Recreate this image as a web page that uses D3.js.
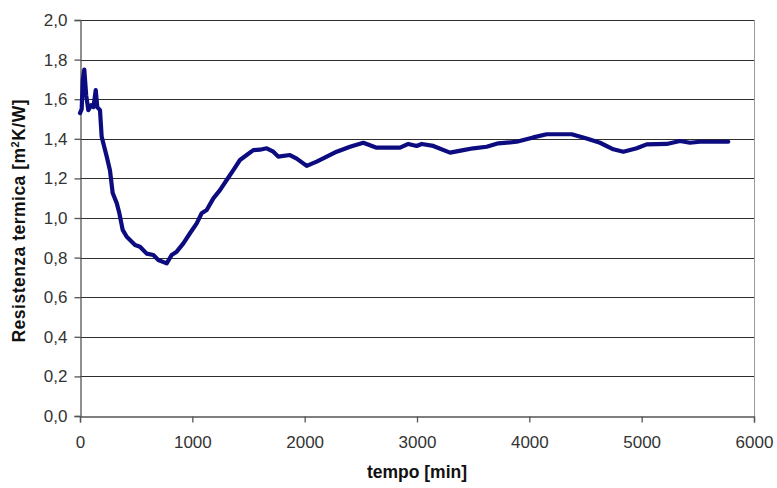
<!DOCTYPE html>
<html><head><meta charset="utf-8">
<script src="https://cdn.jsdelivr.net/npm/d3@7"></script>
<style>
body{margin:0;background:#fff;}
svg{display:block;font-family:"Liberation Sans",Arial,sans-serif;}
</style></head>
<body><svg id="c" width="777" height="488"></svg>
<script>
const times = [0,15,25,38,55,74,100,120,140,154,178,193,238,267,291,327,350,380,416,490,534,594,653,697,772,816,861,920,979,1039,1083,1128,1187,1246,1306,1365,1424,1484,1543,1602,1662,1721,1765,1869,1929,2018,2107,2196,2285,2404,2522,2641,2849,2923,2997,3042,3145,3294,3412,3501,3620,3724,3887,4035,4154,4377,4510,4629,4748,4837,4956,5045,5223,5341,5430,5519,5771];
const resistance = [1.53,1.55,1.70,1.75,1.62,1.545,1.57,1.56,1.646,1.56,1.545,1.41,1.31,1.24,1.126,1.075,1.025,0.94,0.905,0.864,0.855,0.82,0.813,0.788,0.771,0.813,0.83,0.872,0.923,0.973,1.024,1.04,1.099,1.141,1.192,1.242,1.293,1.318,1.343,1.345,1.352,1.335,1.31,1.318,1.30,1.263,1.285,1.31,1.335,1.36,1.38,1.355,1.355,1.374,1.364,1.374,1.364,1.33,1.343,1.352,1.36,1.377,1.385,1.407,1.423,1.423,1.402,1.38,1.347,1.335,1.352,1.372,1.374,1.389,1.38,1.385,1.385];
const xTicks = [0,1000,2000,3000,4000,5000,6000];
const yTicks = [0,0.2,0.4,0.6,0.8,1.0,1.2,1.4,1.6,1.8,2.0];
const xLabel = "tempo [min]";

const svg = d3.select("#c");
const L=80, R=754, T=20, B=416;
const x = d3.scaleLinear().domain([0,6000]).range([L,R]);
const y = d3.scaleLinear().domain([0,2]).range([B,T]);
const fmt = d => d.toFixed(1).replace(".", ",");

// gridlines
svg.append("g").selectAll("line").data(yTicks.filter(d=>d>0)).join("line")
  .attr("x1",L).attr("x2",R).attr("y1",d=>Math.round(y(d))+0.5).attr("y2",d=>Math.round(y(d))+0.5)
  .attr("stroke","#2e2e2e").attr("stroke-width",1);
// right border
svg.append("line").attr("x1",R+0.5).attr("x2",R+0.5).attr("y1",T).attr("y2",B)
  .attr("stroke","#9a9a9a").attr("stroke-width",1);

// y axis
const ya = svg.append("g").attr("transform",`translate(${L+0.5},0)`)
  .call(d3.axisLeft(y).tickValues(yTicks).tickFormat(fmt).tickSize(6).tickPadding(7));
// x axis
const xa = svg.append("g").attr("transform",`translate(0,${B+0.5})`)
  .call(d3.axisBottom(x).tickValues(xTicks).tickFormat(d3.format("d")).tickSize(6).tickPadding(13));
[ya,xa].forEach(a=>{
  a.select(".domain").attr("stroke","#555").attr("stroke-width",1.3);
  a.selectAll(".tick line").attr("stroke","#555").attr("stroke-width",1.3);
  a.selectAll(".tick text").attr("fill","#333").style("font-size","17px").style("font-family","'Liberation Sans',Arial,sans-serif");
});

// line
const line = d3.line().x((d,i)=>x(times[i])).y(d=>y(d));
svg.append("path").datum(resistance).attr("d",line)
  .attr("fill","none").attr("stroke","#0c0c80").attr("stroke-width",4.2)
  .attr("stroke-linejoin","round").attr("stroke-linecap","round");

// axis labels
svg.append("text").attr("x",417).attr("y",478).attr("text-anchor","middle")
  .style("font-size","17.5px").style("font-weight","bold").attr("fill","#111").text(xLabel);
const yl = svg.append("text").attr("transform","translate(25,221) rotate(-90)").attr("text-anchor","middle")
  .attr("textLength",243).attr("lengthAdjust","spacing")
  .style("font-size","17.5px").style("font-weight","bold").attr("fill","#111");
yl.append("tspan").text("Resistenza termica [m");
yl.append("tspan").attr("dy",-6).style("font-size","11px").text("2");
yl.append("tspan").attr("dy",6).text("K/W]");
</script></body></html>
